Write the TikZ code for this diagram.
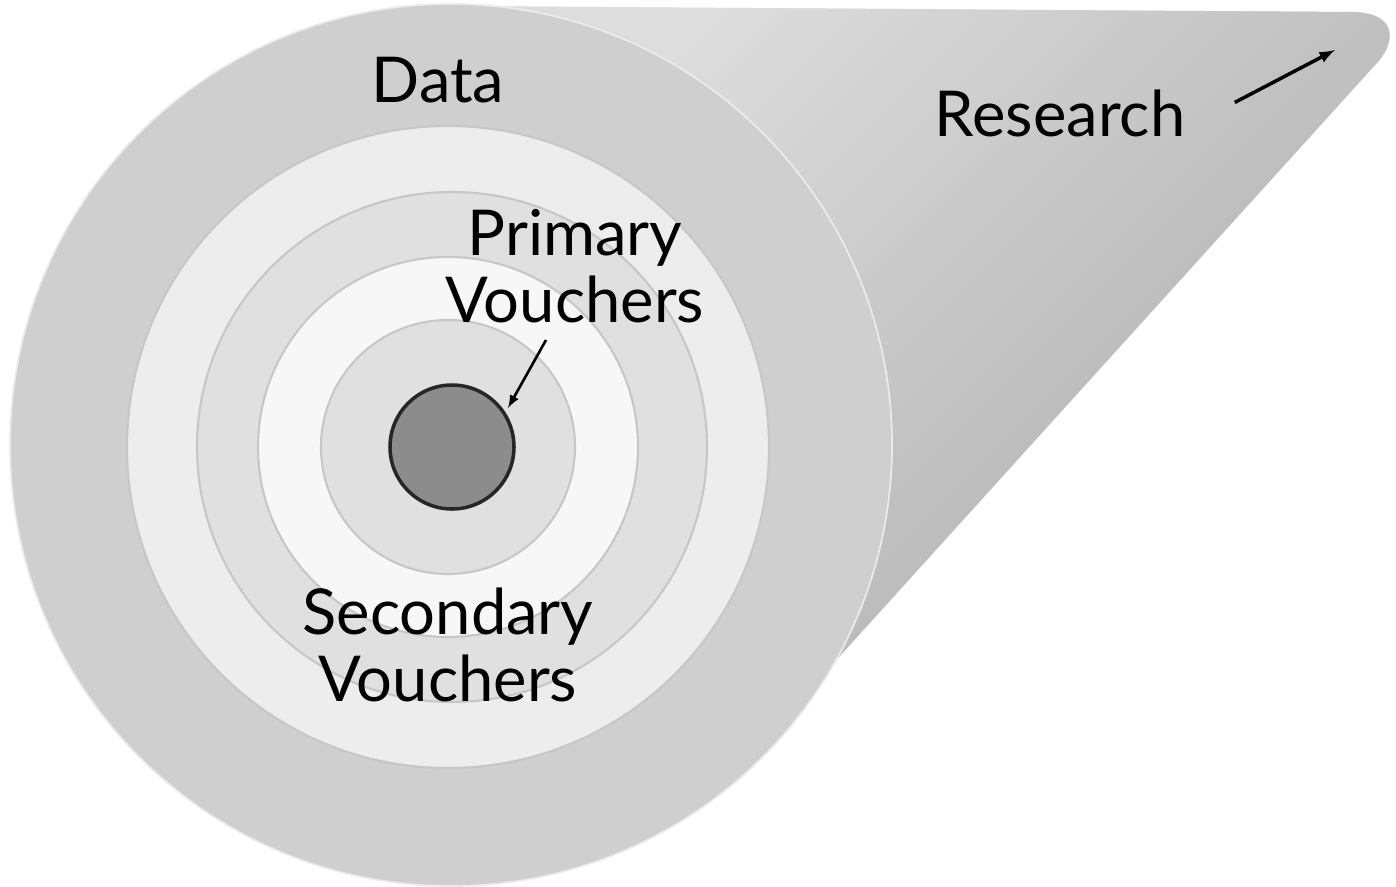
\documentclass[tikz,border=0pt]{standalone}
\usepackage{fontspec}
\setmainfont{Lato}
\tikzset{ring/.style={draw=black!22,line width=1.2pt},
 lbl/.style={font=\fontsize{36}{38}\selectfont,align=center,inner sep=0pt},
 arr/.style={-latex,line width=2pt}}
\begin{document}
\begin{tikzpicture}[x=0.02cm,y=-0.02cm]
\useasboundingbox (0,0) rectangle (1396,886);
\shade[left color=black!15,right color=black!30,shading angle=45]
 (451,6) -- (1355,12) .. controls (1400,14) and (1395,45) .. (1375,65) -- (800,700) -- (451,886) -- cycle;
\shade[top color=black!12,bottom color=black!38,shading angle=45,opacity=0.6]
 (451,6) -- (1355,12) .. controls (1400,14) and (1395,45) .. (1375,65) -- (800,700) -- (451,886) -- cycle;
\fill[black!19] (451,445) circle[radius=441];
\draw[black!8,line width=1pt] (451,445) circle[radius=441];
\filldraw[ring,fill=black!7] (448,447) circle[radius=321];
\filldraw[ring,fill=black!12] (452,447) circle[radius=255];
\filldraw[ring,fill=black!3] (448,447) circle[radius=190];
\filldraw[ring,fill=black!12] (448,447) circle[radius=127];
\filldraw[draw=black!85,line width=2pt,fill=black!45] (452,447) circle[radius=62] node (core) {};
\node[lbl] (data) at (438,80) {Data};
\node[lbl] (res) at (1060,113) {Research};
\coordinate (rtip) at (1335,50);
\draw[arr] ([xshift=28pt,yshift=6pt]res.east) -- (rtip);
\node[lbl] (prim) at (575,266) {Primary\\Vouchers};
\coordinate (pa) at (546,340);
\coordinate (pb) at (508,408);
\draw[-latex,line width=1.5pt] (pa) -- (pb);
\node[lbl] (sec) at (448,645) {Secondary\\Vouchers};
\end{tikzpicture}
\end{document}
